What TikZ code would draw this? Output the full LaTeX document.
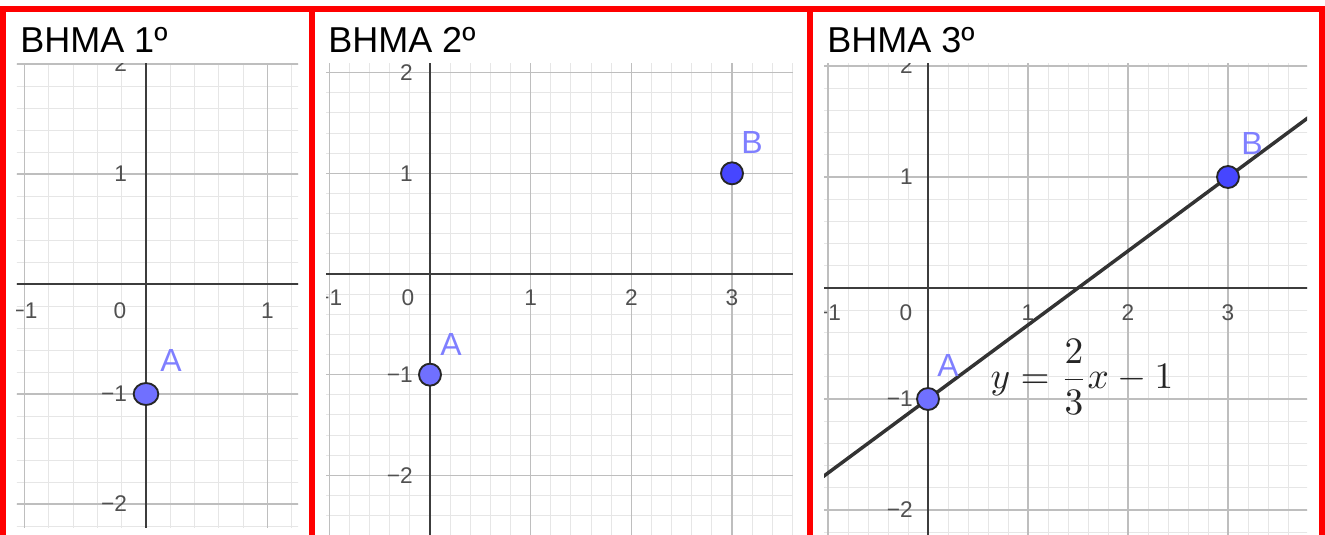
\documentclass[tikz,border=0pt]{standalone}
\usepackage{fontspec}
\setmainfont{Liberation Sans}
\usetikzlibrary{positioning,shapes.geometric}
\definecolor{framered}{RGB}{255,0,0}
\definecolor{axisgray}{RGB}{60,60,60}
\definecolor{majorgray}{RGB}{190,190,190}
\definecolor{minorgray}{RGB}{230,230,230}
\definecolor{ticktext}{RGB}{80,80,80}
\definecolor{ptlight}{RGB}{112,112,255}
\definecolor{ptdark}{RGB}{70,70,255}
\definecolor{ptnamecol}{RGB}{127,127,255}
\tikzset{
  minorline/.style={draw=minorgray, line width=0.75pt},
  majorline/.style={draw=majorgray, line width=1.2pt},
  axisline/.style={draw=axisgray, line width=1.8pt},
  graphline/.style={draw=black!80, line width=2.6pt},
  ticklabel/.style={text=ticktext, font=\fontsize{17}{18}\selectfont, inner sep=0pt},
  ptmark/.style={ellipse, draw=black!85, line width=1.4pt, minimum width=16.5pt, minimum height=16.5pt, inner sep=0pt},
  ptlabel/.style={text=ptnamecol, font=\fontsize{24}{26}\selectfont, inner sep=0pt},
  titletext/.style={font=\fontsize{27}{30}\selectfont, anchor=base west, inner sep=0pt},
  frameline/.style={draw=framered, line width=4.5pt}
}

\begin{document}
\begin{tikzpicture}[x=0.75pt, y=-0.75pt]
    \useasboundingbox (0,0) rectangle (1325,535);
    % first panel: point A only
    \begin{scope}[shift={(146,284)}, x=91.125pt, y=82.5pt]
      \clip (-1.062,-2.218) rectangle (1.251,2.009);
      \draw[minorline, step=0.2] (-1.2,-2.4) grid (1.4,2.2);
      \draw[majorline, step=1] (-1.2,-2.4) grid (1.4,2.2);
      \draw[axisline] (-1.2,0) -- (1.4,0);
      \draw[axisline] (0,-2.4) -- (0,2.2);
      \foreach \i/\t in {-1/−1, 1/1}
        \node[ticklabel, yshift=-20pt] (p1x\i) at (\i,0) {\t};
      \node[ticklabel, xshift=-19.5pt, yshift=-20pt] (p1o) at (0,0) {0};
      \foreach \j/\t in {-2/−2, -1/−1, 1/1, 2/2}
        \node[ticklabel, anchor=east, xshift=-14pt] (p1y\j) at (0,\j) {\t};
      \node[ptmark, fill=ptlight, minimum width=18.5pt] (A1) at (0,-1) {};
      \node[ptlabel] (nA1) at ([xshift=18.75pt, yshift=25.5pt]A1.center) {A};
    \end{scope}
    % second panel: points A and B
    \begin{scope}[shift={(430,274)}, x=75.5pt, y=75.5pt]
      \clip (-1.033,-2.6) rectangle (3.605,2.095);
      \draw[minorline, step=0.2] (-1.2,-2.6) grid (3.8,2.2);
      \draw[majorline, step=1] (-1.2,-2.6) grid (3.8,2.2);
      \draw[axisline] (-1.2,0) -- (3.8,0);
      \draw[axisline] (0,-2.6) -- (0,2.2);
      \foreach \i/\t in {-1/−1, 1/1, 2/2, 3/3}
        \node[ticklabel, yshift=-18pt] (p2x\i) at (\i,0) {\t};
      \node[ticklabel, xshift=-16.5pt, yshift=-18pt] (p2o) at (0,0) {0};
      \foreach \j/\t in {-2/−2, -1/−1, 1/1, 2/2}
        \node[ticklabel, anchor=east, xshift=-12.75pt] (p2y\j) at (0,\j) {\t};
      \node[ptmark, fill=ptlight] (A2) at (0,-1) {};
      \node[ptmark, fill=ptdark] (B2) at (3,1) {};
      \node[ptlabel] (nA2) at ([xshift=15.75pt, yshift=22.5pt]A2.center) {A};
      \node[ptlabel] (nB2) at ([xshift=15pt, yshift=23pt]B2.center) {B};
    \end{scope}
    % third panel: the line through A and B
    \begin{scope}[shift={(928,288)}, x=75pt, y=83.25pt]
      \clip (-1.04,-2.23) rectangle (3.79,2.027);
      \draw[minorline, step=0.2] (-1.2,-2.4) grid (4,2.2);
      \draw[majorline, step=1] (-1.2,-2.4) grid (4,2.2);
      \draw[axisline] (-1.2,0) -- (4,0);
      \draw[axisline] (0,-2.4) -- (0,2.2);
      \foreach \i/\t in {-1/−1, 1/1, 2/2, 3/3}
        \node[ticklabel, yshift=-18.75pt] (p3x\i) at (\i,0) {\t};
      \node[ticklabel, xshift=-16.5pt, yshift=-18.75pt] (p3o) at (0,0) {0};
      \foreach \j/\t in {-2/−2, -1/−1, 1/1, 2/2}
        \node[ticklabel, anchor=east, xshift=-11.25pt] (p3y\j) at (0,\j) {\t};
      \coordinate (L0) at (-1.2,-1.8);
      \coordinate (L1) at (4,1.6667);
      \draw[graphline] (L0) -- (L1);
      \node[ptmark, fill=ptlight] (A3) at (0,-1) {};
      \node[ptmark, fill=ptdark] (B3) at (3,1) {};
      \node[ptlabel] (nA3) at ([xshift=15pt, yshift=25.5pt]A3.center) {A};
      \node[ptlabel] (nB3) at ([xshift=18pt, yshift=25.5pt]B3.center) {B};
      \node[inner sep=0pt, text=black!85, scale=2.8] (eq) at (1.54,-0.8) {$\displaystyle y=\frac{2}{3}x-1$};
    \end{scope}
    % titles
    \node[titletext] (t1) at (20,53) {BHMA 1º};
    \node[titletext] (t2) at (328,53) {BHMA 2º};
    \node[titletext] (t3) at (827,53) {BHMA 3º};
    % red frames
    \draw[frameline] (3,535) -- (3,9) -- (1322,9) -- (1322,535);
    \draw[frameline] (312,9) -- (312,535);
    \draw[frameline] (810,9) -- (810,535);
  \end{tikzpicture}
\end{document}
